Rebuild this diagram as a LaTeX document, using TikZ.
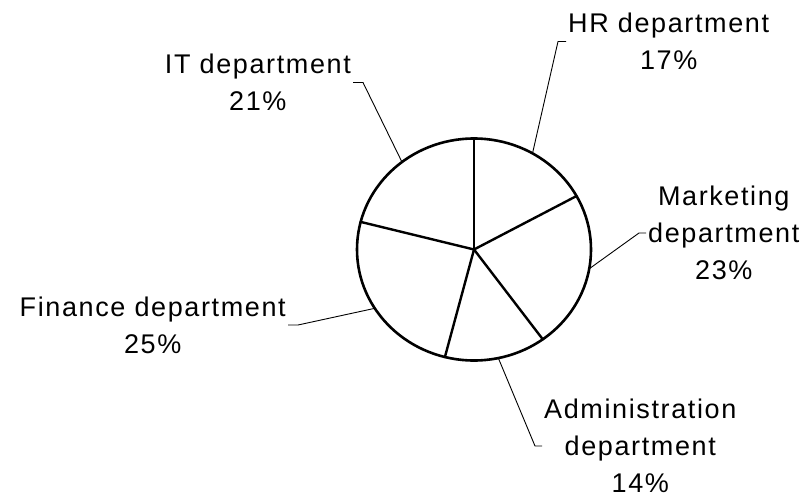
\documentclass[tikz,border=0pt]{standalone}
\usepackage{fontspec}
\usepackage{xcolor}
\usepackage{tikz}
\usetikzlibrary{calc}
\newfontfamily\deptfont[LetterSpace=6]{Liberation Sans}
\definecolor{ink}{HTML}{000000}
\definecolor{paper}{HTML}{FFFFFF}
\tikzset{
  pie/.style={draw=ink, line width=2.6pt},
  spoke/.style={draw=ink, line width=2.4pt, line cap=round},
  lead/.style={draw=ink, line width=0.9pt, line join=round},
  lab/.style={text=ink, font=\deptfont\fontsize{27}{37}\selectfont, align=center, inner sep=2pt},
}

\begin{document}
\begin{tikzpicture}[x=1pt,y=1pt]
  \fill[paper] (0,0) rectangle (805,499);
  \useasboundingbox (0,0) rectangle (805,499);
  \coordinate (O) at (474,249.5);
  % slice borders, clockwise from the top
  \foreach \a in {90,28.8,-54,-104.4,165.6}
    \draw[spoke] (O) -- ++(\a:117 and 111);
  \draw[pie] (O) ellipse [x radius=117, y radius=111];
  % where the leaders leave the pie
  \coordinate (hrP) at ($(O)+(60:117 and 111)$);
  \coordinate (mktP) at ($(O)+(-10:117 and 111)$);
  \coordinate (admP) at ($(O)+(-78:117 and 111)$);
  \coordinate (finP) at ($(O)+(-148:117 and 111)$);
  \coordinate (itP) at ($(O)+(128:117 and 111)$);
  \node[lab, anchor=west] (hr) at (566,457.5) {HR department\\17\%};
  \node[lab, anchor=west] (mkt) at (646,266) {Marketing\\department\\23\%};
  \node[lab, anchor=west] (adm) at (542,53) {Administration\\department\\14\%};
  \node[lab, anchor=east] (fin) at (288,174) {Finance department\\25\%};
  \node[lab, anchor=east] (it) at (353,416.5) {IT department\\21\%};
  \draw[lead] (hrP) -- ([xshift=-8pt]hr.west) -- (hr.west);
  \draw[lead] (mktP) -- ([xshift=-7pt]mkt.west) -- (mkt.west);
  \draw[lead] (admP) -- ([xshift=-7pt]adm.west) -- (adm.west);
  \draw[lead] (finP) -- ([xshift=10pt]fin.east) -- (fin.east);
  \draw[lead] (itP) -- ([xshift=10pt]it.east) -- (it.east);
\end{tikzpicture}
\end{document}
